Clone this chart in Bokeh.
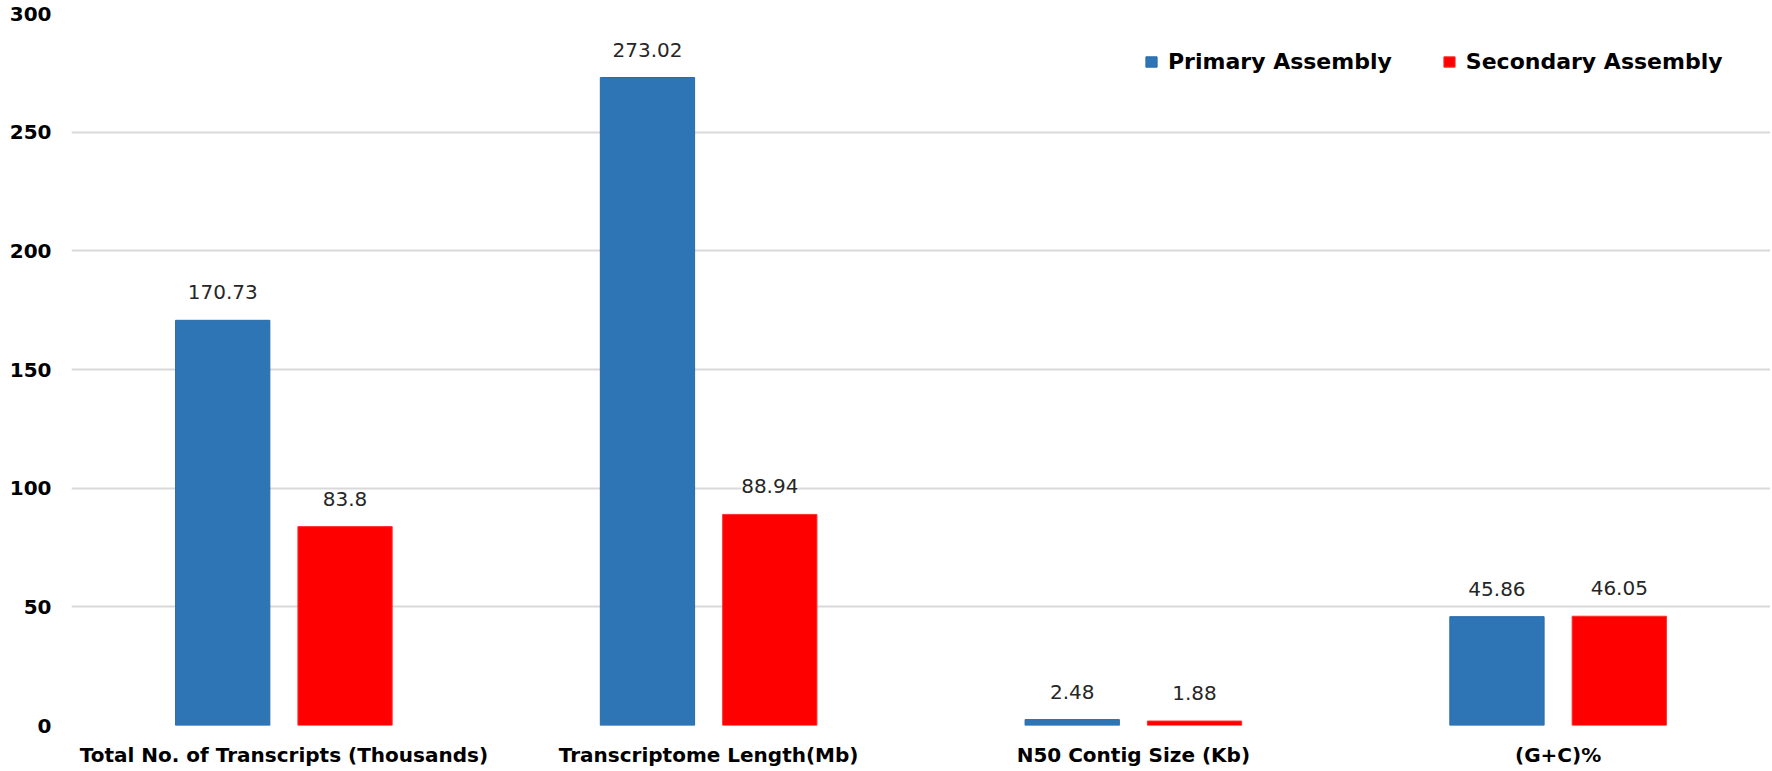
from bokeh.plotting import figure
from bokeh.models import ColumnDataSource, LabelSet, Legend, LegendItem
from bokeh.transform import dodge
from bokeh.core.properties import value
from bokeh.embed import file_html
from bokeh.resources import INLINE

categories = ["Total No. of Transcripts (Thousands)", "Transcriptome Length(Mb)",
              "N50 Contig Size (Kb)", "(G+C)%"]
primary = [170.73, 273.02, 2.48, 45.86]
secondary = [83.8, 88.94, 1.88, 46.05]
series_names = ["Primary Assembly", "Secondary Assembly"]
y_ticks = [0, 50, 100, 150, 200, 250, 300]

BLUE = "#2E75B6"
RED = "#FF0000"

src = ColumnDataSource(dict(
    cat=categories,
    primary=primary,
    secondary=secondary,
    primary_txt=[f"{v:g}" for v in primary],
    secondary_txt=[f"{v:g}" for v in secondary],
))

p = figure(width=1770, height=769, x_range=categories, y_range=(0, 300),
           output_backend="svg", toolbar_location=None,
           min_border_left=71, min_border_right=0, min_border_top=13, min_border_bottom=44)
p.x_range.range_padding = 0
p.outline_line_color = None
p.background_fill_color = "white"
p.border_fill_color = "white"

off = 0.144
bw = 0.222
r1 = p.vbar(x=dodge("cat", -off, range=p.x_range), top="primary", width=bw, source=src,
            fill_color=BLUE, line_color="#2A6AA8", line_width=1)
r2 = p.vbar(x=dodge("cat", off, range=p.x_range), top="secondary", width=bw, source=src,
            fill_color=RED, line_color="#FF3030", line_width=1)

label_kw = dict(y_offset=21, text_align="center", text_baseline="alphabetic",
                text_font=value("DejaVu Sans"), text_font_size="20px", text_color="#262626",
                background_fill_color="white", source=src)
p.add_layout(LabelSet(x=dodge("cat", -off, range=p.x_range), y="primary", text="primary_txt", **label_kw))
p.add_layout(LabelSet(x=dodge("cat", off, range=p.x_range), y="secondary", text="secondary_txt", **label_kw))

# axes
p.yaxis.ticker = y_ticks
p.yaxis.axis_line_color = None
p.yaxis.major_tick_line_color = None
p.yaxis.major_tick_out = 0
p.yaxis.minor_tick_line_color = None
p.yaxis.major_label_standoff = 20
p.yaxis.major_label_text_font = "DejaVu Sans"
p.yaxis.major_label_text_font_style = "bold"
p.yaxis.major_label_text_font_size = "20px"
p.yaxis.major_label_text_color = "black"

p.xaxis.axis_line_color = None
p.xaxis.major_tick_line_color = None
p.xaxis.major_tick_out = 0
p.xaxis.minor_tick_line_color = None
p.xaxis.major_label_standoff = 17
p.xaxis.major_label_text_font = "DejaVu Sans"
p.xaxis.major_label_text_font_style = "bold"
p.xaxis.major_label_text_font_size = "20px"
p.xaxis.major_label_text_color = "black"

p.xgrid.grid_line_color = None
p.ygrid.grid_line_color = "#D9D9D9"
p.ygrid.grid_line_width = 2

legend = Legend(items=[LegendItem(label=series_names[0], renderers=[r1]),
                       LegendItem(label=series_names[1], renderers=[r2])],
                orientation="horizontal", location=(1073, 651),
                padding=0, margin=0, spacing=50, label_standoff=10,
                glyph_width=14, glyph_height=13,
                border_line_color=None, background_fill_alpha=0,
                label_text_font="DejaVu Sans", label_text_font_style="bold",
                label_text_font_size="22px", label_text_color="black")
p.add_layout(legend)

open("out.html", "w").write(file_html(p, INLINE))
